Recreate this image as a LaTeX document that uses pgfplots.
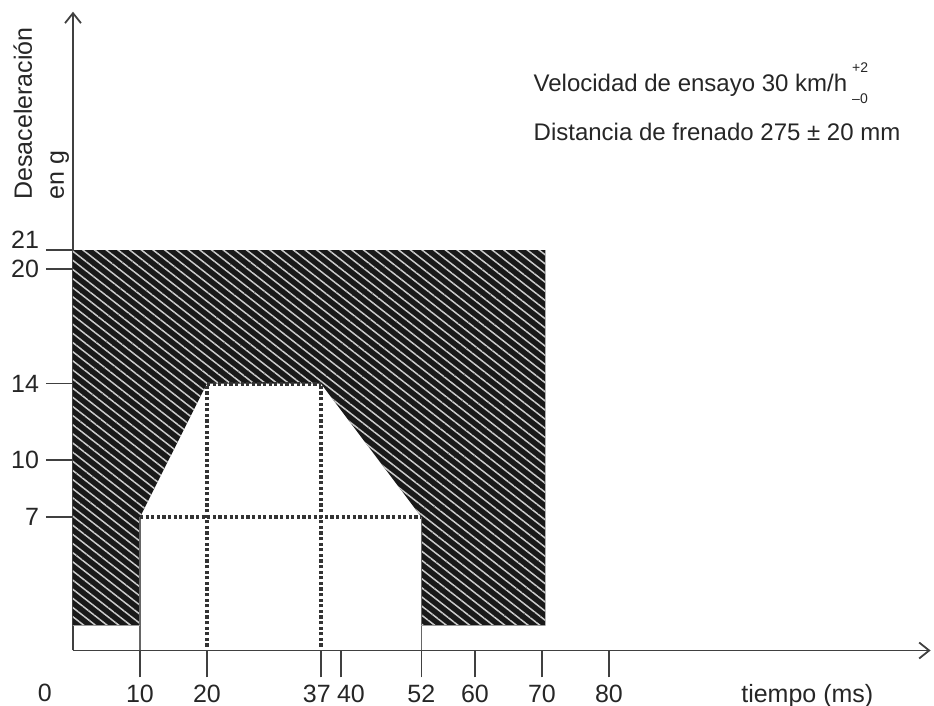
\documentclass[border=0pt]{standalone}
\usepackage{fontspec}
\setmainfont{Liberation Sans}
\usepackage{pgfplots}
\pgfplotsset{compat=1.18}
\usetikzlibrary{patterns.meta,arrows.meta}
\tikzset{dotl/.style={color=black!80, line width=2pt, dash pattern=on 1.6pt off 1.2pt}}
\begin{document}
\begin{tikzpicture}
\begin{axis}[
  at={(0,0)}, anchor=south west,
  scale only axis, width=428.8pt, height=319.4pt,
  xmin=0, xmax=128, ymin=0, ymax=33.5,
  axis lines=left,
  axis line style={black!75, line width=0.9pt},
  x axis line style={-{Straight Barb[length=5pt,width=8pt]}},
  y axis line style={-{Straight Barb[length=5pt,width=8pt]}},
  xtick={10,20,37,52,60,70,80},
  xticklabels={10,20,{\hspace*{-4pt}37},52,60,70,80},
  ytick={7,10,14,20},
  extra y ticks={21},
  extra y tick style={grid=none, yticklabel style={yshift=5pt}},
  extra x ticks={40},
  extra x tick style={grid=none, xticklabel style={xshift=5pt}},
  tick align=outside,
  major tick length=13.5pt,
  minor tick num=0,
  tick style={black!75, line width=0.8pt},
  tick label style={font=\fontsize{12.5}{14}\selectfont, text=black!85},
  /pgf/number format/assume math mode=true,
  clip=false,
]
% hatched area
\addplot[fill=black!90, draw=none] coordinates {(0,1.3)(10,1.3)(10,7)(20,14)(37,14)(52,7)(52,1.3)(70.5,1.3)(70.5,21)(0,21)(0,1.3)};
\addplot[draw=none, pattern={Lines[angle=-38,distance=3.6pt,line width=0.75pt]}, pattern color=white!80!black] coordinates {(0,1.3)(10,1.3)(10,7)(20,14)(37,14)(52,7)(52,1.3)(70.5,1.3)(70.5,21)(0,21)(0,1.3)};
% solid boundaries
\addplot[black!60, line width=0.6pt] coordinates {(10,0)(10,7)};
\addplot[black!60, line width=0.6pt] coordinates {(52,0)(52,7)};
\addplot[black!40, line width=0.6pt] coordinates {(0,1.3)(10,1.3)};
\addplot[black!40, line width=0.6pt] coordinates {(52,1.3)(70.5,1.3)};
% dotted lines
\addplot[dotl] coordinates {(10,7)(52,7)};
\addplot[dotl] coordinates {(20,14)(37,14)};
\addplot[dotl] coordinates {(20,0.2)(20,14)};
\addplot[dotl] coordinates {(37,0.2)(37,14)};
% texts
\node[anchor=north, font=\fontsize{12.5}{14}\selectfont, text=black!85, yshift=-13.5pt, inner sep=3.3pt] at (axis cs:-4.2,0) {0};
\node[anchor=north, font=\fontsize{12.5}{14}\selectfont, text=black!85, yshift=-13.5pt, inner sep=3.3pt] at (axis cs:109.6,0) {tiempo (ms)};
\node[anchor=north west, rotate=90, align=left, inner sep=0pt, font=\fontsize{12.5}{16}\selectfont, text=black!85] at (axis cs:-8.96,23.62) {Desaceleración\\en g};
\node[anchor=base west, inner sep=0pt, font=\fontsize{12}{14}\selectfont, text=black!85] at (axis cs:68.7,29.3) {Velocidad de ensayo 30 km/h\hspace{2.5pt}\rlap{\raisebox{1.5ex}{\fontsize{7}{8}\selectfont +2}}\raisebox{-0.9ex}{\fontsize{7}{8}\selectfont –0}};
\node[anchor=base west, inner sep=0pt, font=\fontsize{12}{14}\selectfont, text=black!85] at (axis cs:68.7,26.75) {Distancia de frenado 275 ± 20 mm};
\end{axis}
\pgfresetboundingbox
\path[use as bounding box] (-36.5pt,-27.75pt) rectangle (430.5pt,325.25pt);
\end{tikzpicture}
\end{document}
